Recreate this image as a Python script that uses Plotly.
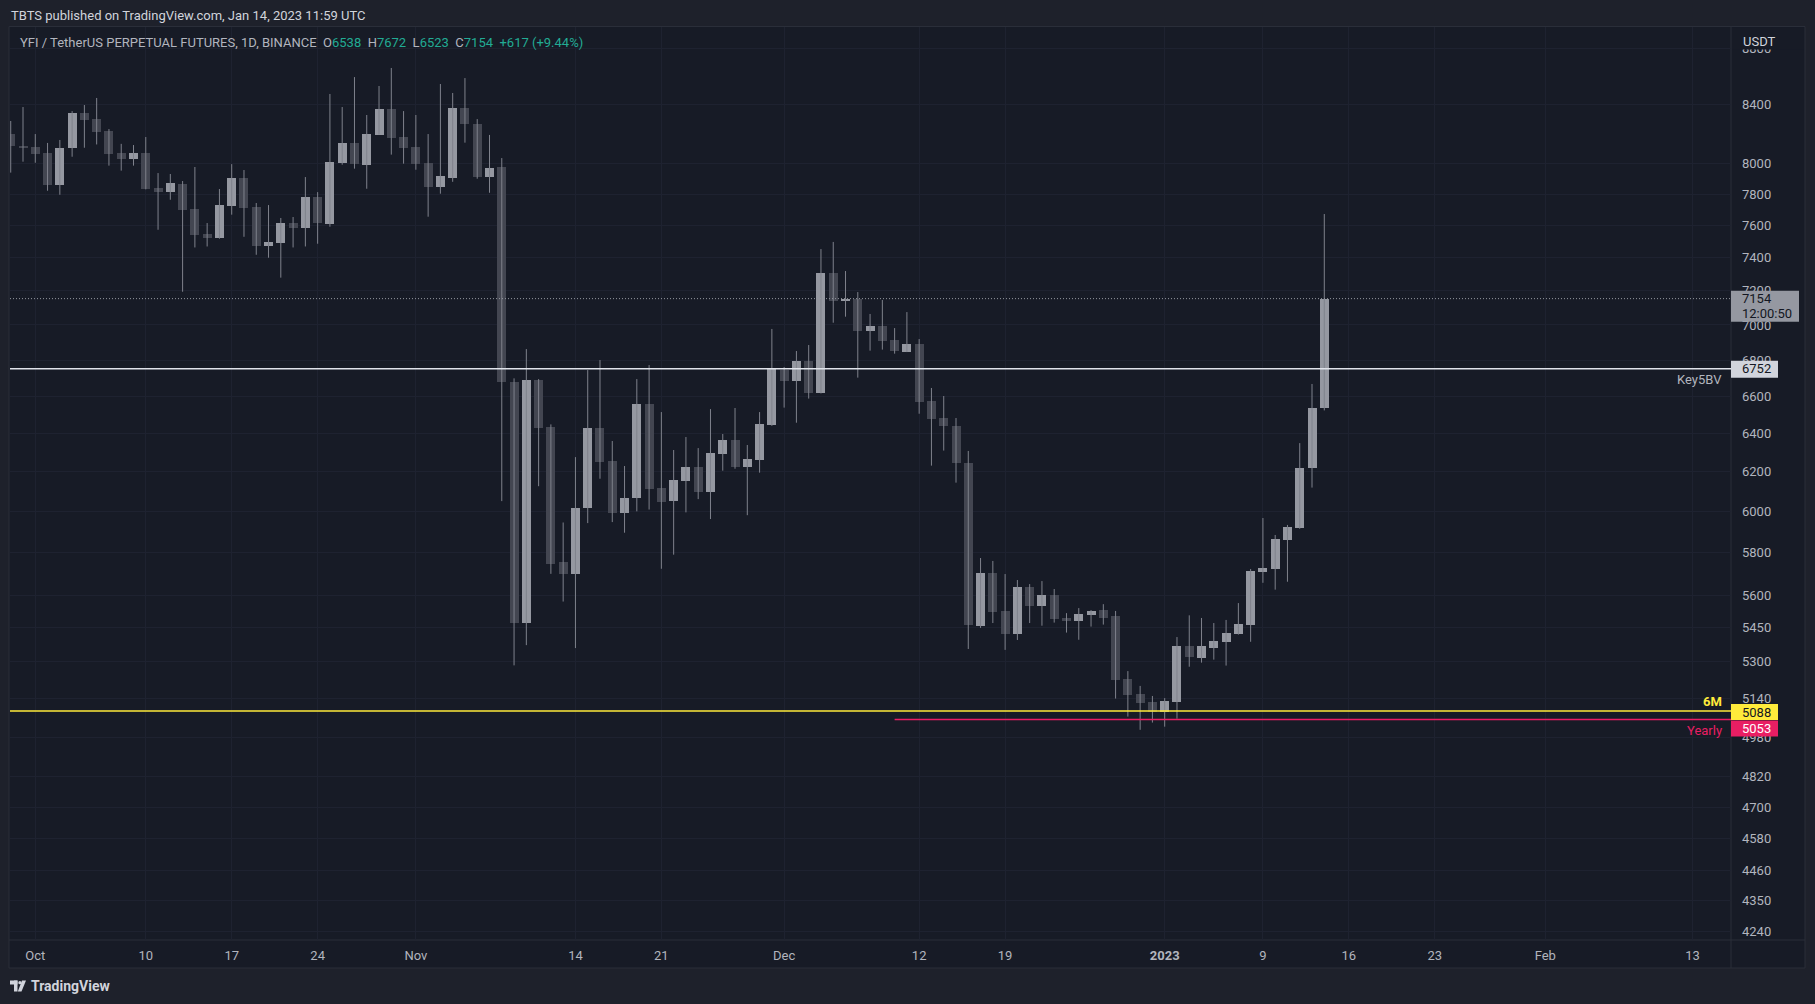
import math
import pandas as pd
import plotly.graph_objects as go

# ---------------- data ----------------
dates = pd.date_range("2022-09-29", "2023-01-14", freq="D")

opens = [8196, 8118,
         8110, 8066, 7860, 8100, 8340, 8296, 8214, 8066, 8026, 8068, 7836, 7815, 7865, 7703, 7546, 7523,
         7725, 7903, 7716, 7475, 7493, 7615, 7586, 7781, 7611, 8004, 8136, 7991, 8192, 8367, 8176,
         8109, 8002, 7847, 7905, 8374, 8264, 7912, 7976, 6680, 5473, 6689, 6434, 5754, 5699, 6019,
         6428, 6256, 5992, 6067, 6558, 6116, 6052, 6155, 6225, 6097, 6294, 6365, 6227, 6263, 6446,
         6744, 6685, 6795, 6619, 7310, 7142, 7152, 6967, 6994, 6914, 6847, 6891, 6574, 6482, 6439,
         6247, 5459, 5703, 5527, 5422, 5637, 5551, 5600, 5495, 5483, 5510, 5531, 5504, 5225, 5160, 5127,
         5086, 5128, 5369, 5317, 5362, 5388, 5424, 5465, 5709, 5724, 5862, 5921, 6220, 6538]
highs = [8285, 8381,
         8196, 8136, 8156, 8353, 8395, 8444, 8230, 8130, 8122, 8176, 7936, 7930, 7884, 7976, 7615, 7832,
         7995, 7956, 7742, 7729, 7647, 7653, 7910, 7812, 8472, 8381, 8591, 8326, 8528, 8656, 8353,
         8326, 8196, 8542, 8479, 8584, 8298, 8190, 8035, 6698, 6862, 6694, 6448, 5946, 6276, 6744,
         6800, 6360, 6230, 6694, 6772, 6514, 6313, 6381, 6323, 6530, 6397, 6536, 6339, 6514, 6977,
         6761, 6851, 6885, 7453, 7497, 7319, 7193, 7064, 7146, 6982, 7075, 6919, 6645, 6601, 6482,
         6308, 5774, 5760, 5698, 5670, 5651, 5665, 5628, 5517, 5540, 5531, 5558, 5527, 5259, 5195, 5152,
         5143, 5409, 5507, 5495, 5472, 5486, 5563, 5722, 5968, 5885, 5934, 6349, 6667, 7672]
lows = [7939, 8011,
        8004, 7821, 7795, 8044, 8104, 8126, 7985, 7952, 7985, 7830, 7573, 7763, 7195, 7463, 7469, 7517,
        7668, 7529, 7418, 7400, 7279, 7463, 7469, 7486, 7592, 7991, 7965, 7834, 8192, 8058, 7998,
        7958, 7655, 7802, 7879, 8138, 7899, 7808, 6052, 5284, 5373, 6127, 5699, 5570, 5360, 5943,
        6165, 5948, 5896, 6001, 6010, 5723, 5790, 5996, 6062, 5963, 6206, 6216, 5982, 6196, 6440,
        6538, 6457, 6587, 6615, 7013, 7048, 6702, 6853, 6859, 6836, 6845, 6505, 6232, 6310, 6145,
        5356, 5450, 5472, 5352, 5396, 5472, 5460, 5474, 5429, 5397, 5456, 5465, 5141, 5065, 5010, 5040,
        5023, 5056, 5278, 5296, 5309, 5283, 5420, 5388, 5657, 5625, 5662, 5915, 6120, 6523]
closes = [8115, 8104,
          8064, 7860, 8102, 8340, 8294, 8212, 8064, 8030, 8068, 7834, 7815, 7871, 7699, 7542, 7523, 7729,
          7903, 7712, 7475, 7497, 7615, 7586, 7781, 7615, 8009, 8136, 7998, 8196, 8367, 8172, 8104,
          7998, 7847, 7917, 8374, 8266, 7912, 7969, 6680, 5470, 6689, 6428, 5747, 5699, 6019, 6428,
          6252, 5992, 6070, 6558, 6112, 6047, 6158, 6225, 6097, 6297, 6365, 6227, 6266, 6450, 6748,
          6685, 6795, 6619, 7307, 7142, 7152, 6967, 6994, 6910, 6853, 6891, 6570, 6478, 6441, 6244,
          5463, 5703, 5524, 5422, 5637, 5551, 5600, 5492, 5483, 5513, 5527, 5496, 5222, 5157, 5124, 5086,
          5131, 5369, 5322, 5369, 5391, 5427, 5468, 5712, 5727, 5865, 5924, 6220, 6538, 7154]

price_ticks = [8800, 8400, 8000, 7800, 7600, 7400, 7200, 7000, 6800, 6600, 6400, 6200, 6000, 5800,
               5600, 5450, 5300, 5140, 4980, 4820, 4700, 4580, 4460, 4350, 4240]
time_tick_dates = ["2022-10-01", "2022-10-10", "2022-10-17", "2022-10-24", "2022-11-01", "2022-11-14",
                   "2022-11-21", "2022-12-01", "2022-12-12", "2022-12-19", "2023-01-01", "2023-01-09",
                   "2023-01-16", "2023-01-23", "2023-02-01", "2023-02-13"]
time_tick_labels = ["Oct", "10", "17", "24", "Nov", "14", "21", "Dec", "12", "19", "<b>2023</b>", "9",
                    "16", "23", "Feb", "13"]

KEY5BV = 6752
SIX_M = 5088
YEARLY = 5053
YEARLY_START = "2022-12-10"
LAST_PRICE = 7154
COUNTDOWN = "12:00:50"
CHANGE_TEXT = "+617 (+9.44%)"

X_RANGE = ["2022-09-28 22:34", "2023-02-16 03:07"]
Y_RANGE = [4211.3, 8954]

# ---------------- style ----------------
OUTER = "#1e212b"
PANE = "#171b26"
BORDER = "#2a2e39"
GRID = "#1e2230"
UP = "#9598a1"
DOWN = "#434651"
WICK = "#7f828c"
TXT = "#b2b5be"
TXT2 = "#d1d4dc"
TEAL = "#22ab94"
YELLOW = "#ffeb3b"
PINK = "#e91e63"
FONT = "Roboto, sans-serif"

W, H = 1815, 1004
PL, PR, PT, PB = 10, 1731, 27, 940
PH = PB - PT


def xp(px):
    return (px - PL) / (PR - PL)


def yp(py):
    return (PB - py) / PH


LOG0, LOG1 = math.log10(Y_RANGE[0]), math.log10(Y_RANGE[1])


def yf(price, shift_px=0.0):
    """paper y of a price on the log price scale, optionally shifted by pixels (up = +)"""
    return (math.log10(price) - LOG0) / (LOG1 - LOG0) + shift_px / PH


fig = go.Figure()

# wicks
wx, wy = [], []
for d, lo, hi in zip(dates, lows, highs):
    wx += [d, d, None]
    wy += [lo, hi, None]
fig.add_trace(go.Scatter(x=wx, y=wy, mode="lines", line=dict(color=WICK, width=1),
                         hoverinfo="skip", showlegend=False))

# bodies
body_base = [min(o, c) for o, c in zip(opens, closes)]
body_size = [max(abs(c - o), 1) for o, c in zip(opens, closes)]
body_col = [UP if c >= o else DOWN for o, c in zip(opens, closes)]
fig.add_trace(go.Bar(x=dates, y=body_size, base=body_base, width=0.733 * 86400000,
                     marker=dict(color=body_col, line=dict(width=0)),
                     hoverinfo="skip", showlegend=False))

shapes = []
# pane background with border
shapes.append(dict(type="rect", xref="paper", yref="paper", x0=xp(9), x1=xp(1805), y0=yp(968), y1=yp(26.5),
                   fillcolor=PANE, line=dict(color=BORDER, width=1), layer="below"))
# separators
shapes.append(dict(type="line", xref="paper", yref="paper", x0=xp(1731), x1=xp(1731), y0=yp(968), y1=yp(26.5),
                   line=dict(color=BORDER, width=1), layer="below"))
shapes.append(dict(type="line", xref="paper", yref="paper", x0=xp(9), x1=xp(1805), y0=yp(940), y1=yp(940),
                   line=dict(color=BORDER, width=1), layer="below"))

# horizontal levels
shapes.append(dict(type="line", xref="paper", yref="paper", x0=0, x1=1,
                   y0=yf(LAST_PRICE), y1=yf(LAST_PRICE),
                   line=dict(color=UP, width=1, dash="1px,2px"), layer="above"))
shapes.append(dict(type="line", xref="paper", yref="paper", x0=0, x1=1,
                   y0=yf(KEY5BV), y1=yf(KEY5BV),
                   line=dict(color="#e0e3eb", width=1.5), layer="above"))
shapes.append(dict(type="line", xref="paper", yref="paper", x0=0, x1=1,
                   y0=yf(SIX_M), y1=yf(SIX_M),
                   line=dict(color=YELLOW, width=1.5), layer="above"))
shapes.append(dict(type="line", xref="x", yref="paper", x0=YEARLY_START, x1=X_RANGE[1],
                   y0=yf(YEARLY), y1=yf(YEARLY),
                   line=dict(color=PINK, width=1.5), layer="above"))

# cover behind USDT
shapes.append(dict(type="rect", xref="paper", yref="paper", x0=xp(1732), x1=xp(1804), y0=yp(49.5), y1=yp(27.5),
                   fillcolor=PANE, line=dict(width=0), layer="above"))


# price boxes on the axis
def price_box(price, lo_px, hi_px, right_px, color):
    shapes.append(dict(type="rect", xref="paper", yref="paper",
                       x0=xp(1731), x1=xp(right_px), y0=yf(price, lo_px), y1=yf(price, hi_px),
                       fillcolor=color, line=dict(width=0), layer="above"))


price_box(LAST_PRICE, -23, 8, 1799, UP)
price_box(KEY5BV, -9, 8, 1778, "#d1d4dc")
price_box(SIX_M, -9, 7, 1778, YELLOW)
price_box(YEARLY, -17, -1, 1778, PINK)

# TradingView logo (approximate)
shapes.append(dict(type="rect", xref="paper", yref="paper", x0=xp(10), x1=xp(17.5), y0=yp(984.5), y1=yp(980.5),
                   fillcolor=TXT2, line=dict(width=0), layer="above"))
shapes.append(dict(type="rect", xref="paper", yref="paper", x0=xp(14), x1=xp(17.5), y0=yp(991.5), y1=yp(980.5),
                   fillcolor=TXT2, line=dict(width=0), layer="above"))
shapes.append(dict(type="circle", xref="paper", yref="paper", x0=xp(18.3), x1=xp(21.5), y0=yp(984.3), y1=yp(981),
                   fillcolor=TXT2, line=dict(width=0), layer="above"))
shapes.append(dict(type="path", xref="paper", yref="paper",
                   path=f"M {xp(22)} {yp(980.5)} L {xp(26)} {yp(980.5)} L {xp(21.5)} {yp(991.5)} L {xp(17.8)} {yp(991.5)} Z",
                   fillcolor=TXT2, line=dict(width=0), layer="above"))

annotations = []


def pix_text(text, px, py, size=13, color=TXT, anchor="left", yanchor="middle"):
    annotations.append(dict(text=text, xref="paper", yref="paper", x=xp(px), y=yp(py), showarrow=False,
                            xanchor=anchor, yanchor=yanchor, font=dict(family=FONT, size=size, color=color)))


def axis_text(text, price, shift, color, size=13):
    annotations.append(dict(text=text, xref="paper", yref="paper", x=xp(1740), y=yf(price, shift),
                            showarrow=False, xanchor="left", yanchor="middle",
                            font=dict(family=FONT, size=size, color=color)))


def pane_label(text, price, shift, color, bold=False):
    annotations.append(dict(text=f"<b>{text}</b>" if bold else text, xref="paper", yref="paper", x=xp(1724),
                            y=yf(price, shift), showarrow=False, xanchor="right",
                            yanchor="middle", font=dict(family=FONT, size=13, color=color)))


pix_text("TBTS published on TradingView.com, Jan 14, 2023 11:59 UTC", 9, 15, size=13, color=TXT2)

o, h, l, c = opens[-1], highs[-1], lows[-1], closes[-1]
sp = "\u00a0\u00a0"
legend = (f"YFI / TetherUS PERPETUAL FUTURES, 1D, BINANCE{sp}"
          f"O<span style='color:{TEAL}'>{o}</span>{sp}H<span style='color:{TEAL}'>{h}</span>{sp}"
          f"L<span style='color:{TEAL}'>{l}</span>{sp}C<span style='color:{TEAL}'>{c}</span>{sp}"
          f"<span style='color:{TEAL}'>{CHANGE_TEXT}</span>")
pix_text(legend, 18, 43, size=13, color=TXT)

pix_text("USDT", 1741, 41, size=13, color=TXT2)
pix_text("<b>TradingView</b>", 29, 986, size=14, color=TXT2)

axis_text(str(LAST_PRICE), LAST_PRICE, 0, "#131722")
axis_text(COUNTDOWN, LAST_PRICE, -15, "#131722")
axis_text(str(KEY5BV), KEY5BV, 0, "#131722")
axis_text(str(SIX_M), SIX_M, -1, "#131722")
axis_text(str(YEARLY), YEARLY, -9, "#ffffff")

pane_label("Key5BV", KEY5BV, -11, TXT)
pane_label("6M", SIX_M, 10, YELLOW, bold=True)
pane_label("Yearly", YEARLY, -11, PINK)

fig.update_layout(
    width=W, height=H,
    margin=dict(l=PL, r=W - PR, t=PT, b=H - PB, pad=0),
    paper_bgcolor=OUTER, plot_bgcolor=PANE,
    barmode="overlay", bargap=0,
    showlegend=False,
    shapes=shapes, annotations=annotations,
    font=dict(family=FONT, size=13, color=TXT),
    xaxis=dict(type="date", range=X_RANGE, tickvals=time_tick_dates, ticktext=time_tick_labels,
               showgrid=True, gridcolor=GRID, gridwidth=1, zeroline=False, showline=False,
               ticks="", ticklabelstandoff=6, tickfont=dict(family=FONT, size=13, color=TXT),
               fixedrange=True, rangeslider=dict(visible=False)),
    yaxis=dict(type="log", range=[LOG0, LOG1], side="right",
               tickvals=price_ticks, ticktext=[str(v) for v in price_ticks],
               showgrid=True, gridcolor=GRID, gridwidth=1, zeroline=False, showline=False,
               ticks="", ticklabelstandoff=10, tickfont=dict(family=FONT, size=13, color=TXT),
               fixedrange=True),
)

fig.write_html("out.html", config={"displayModeBar": False},
               post_script="document.body.style.margin='0';document.body.style.background='%s';" % OUTER)
